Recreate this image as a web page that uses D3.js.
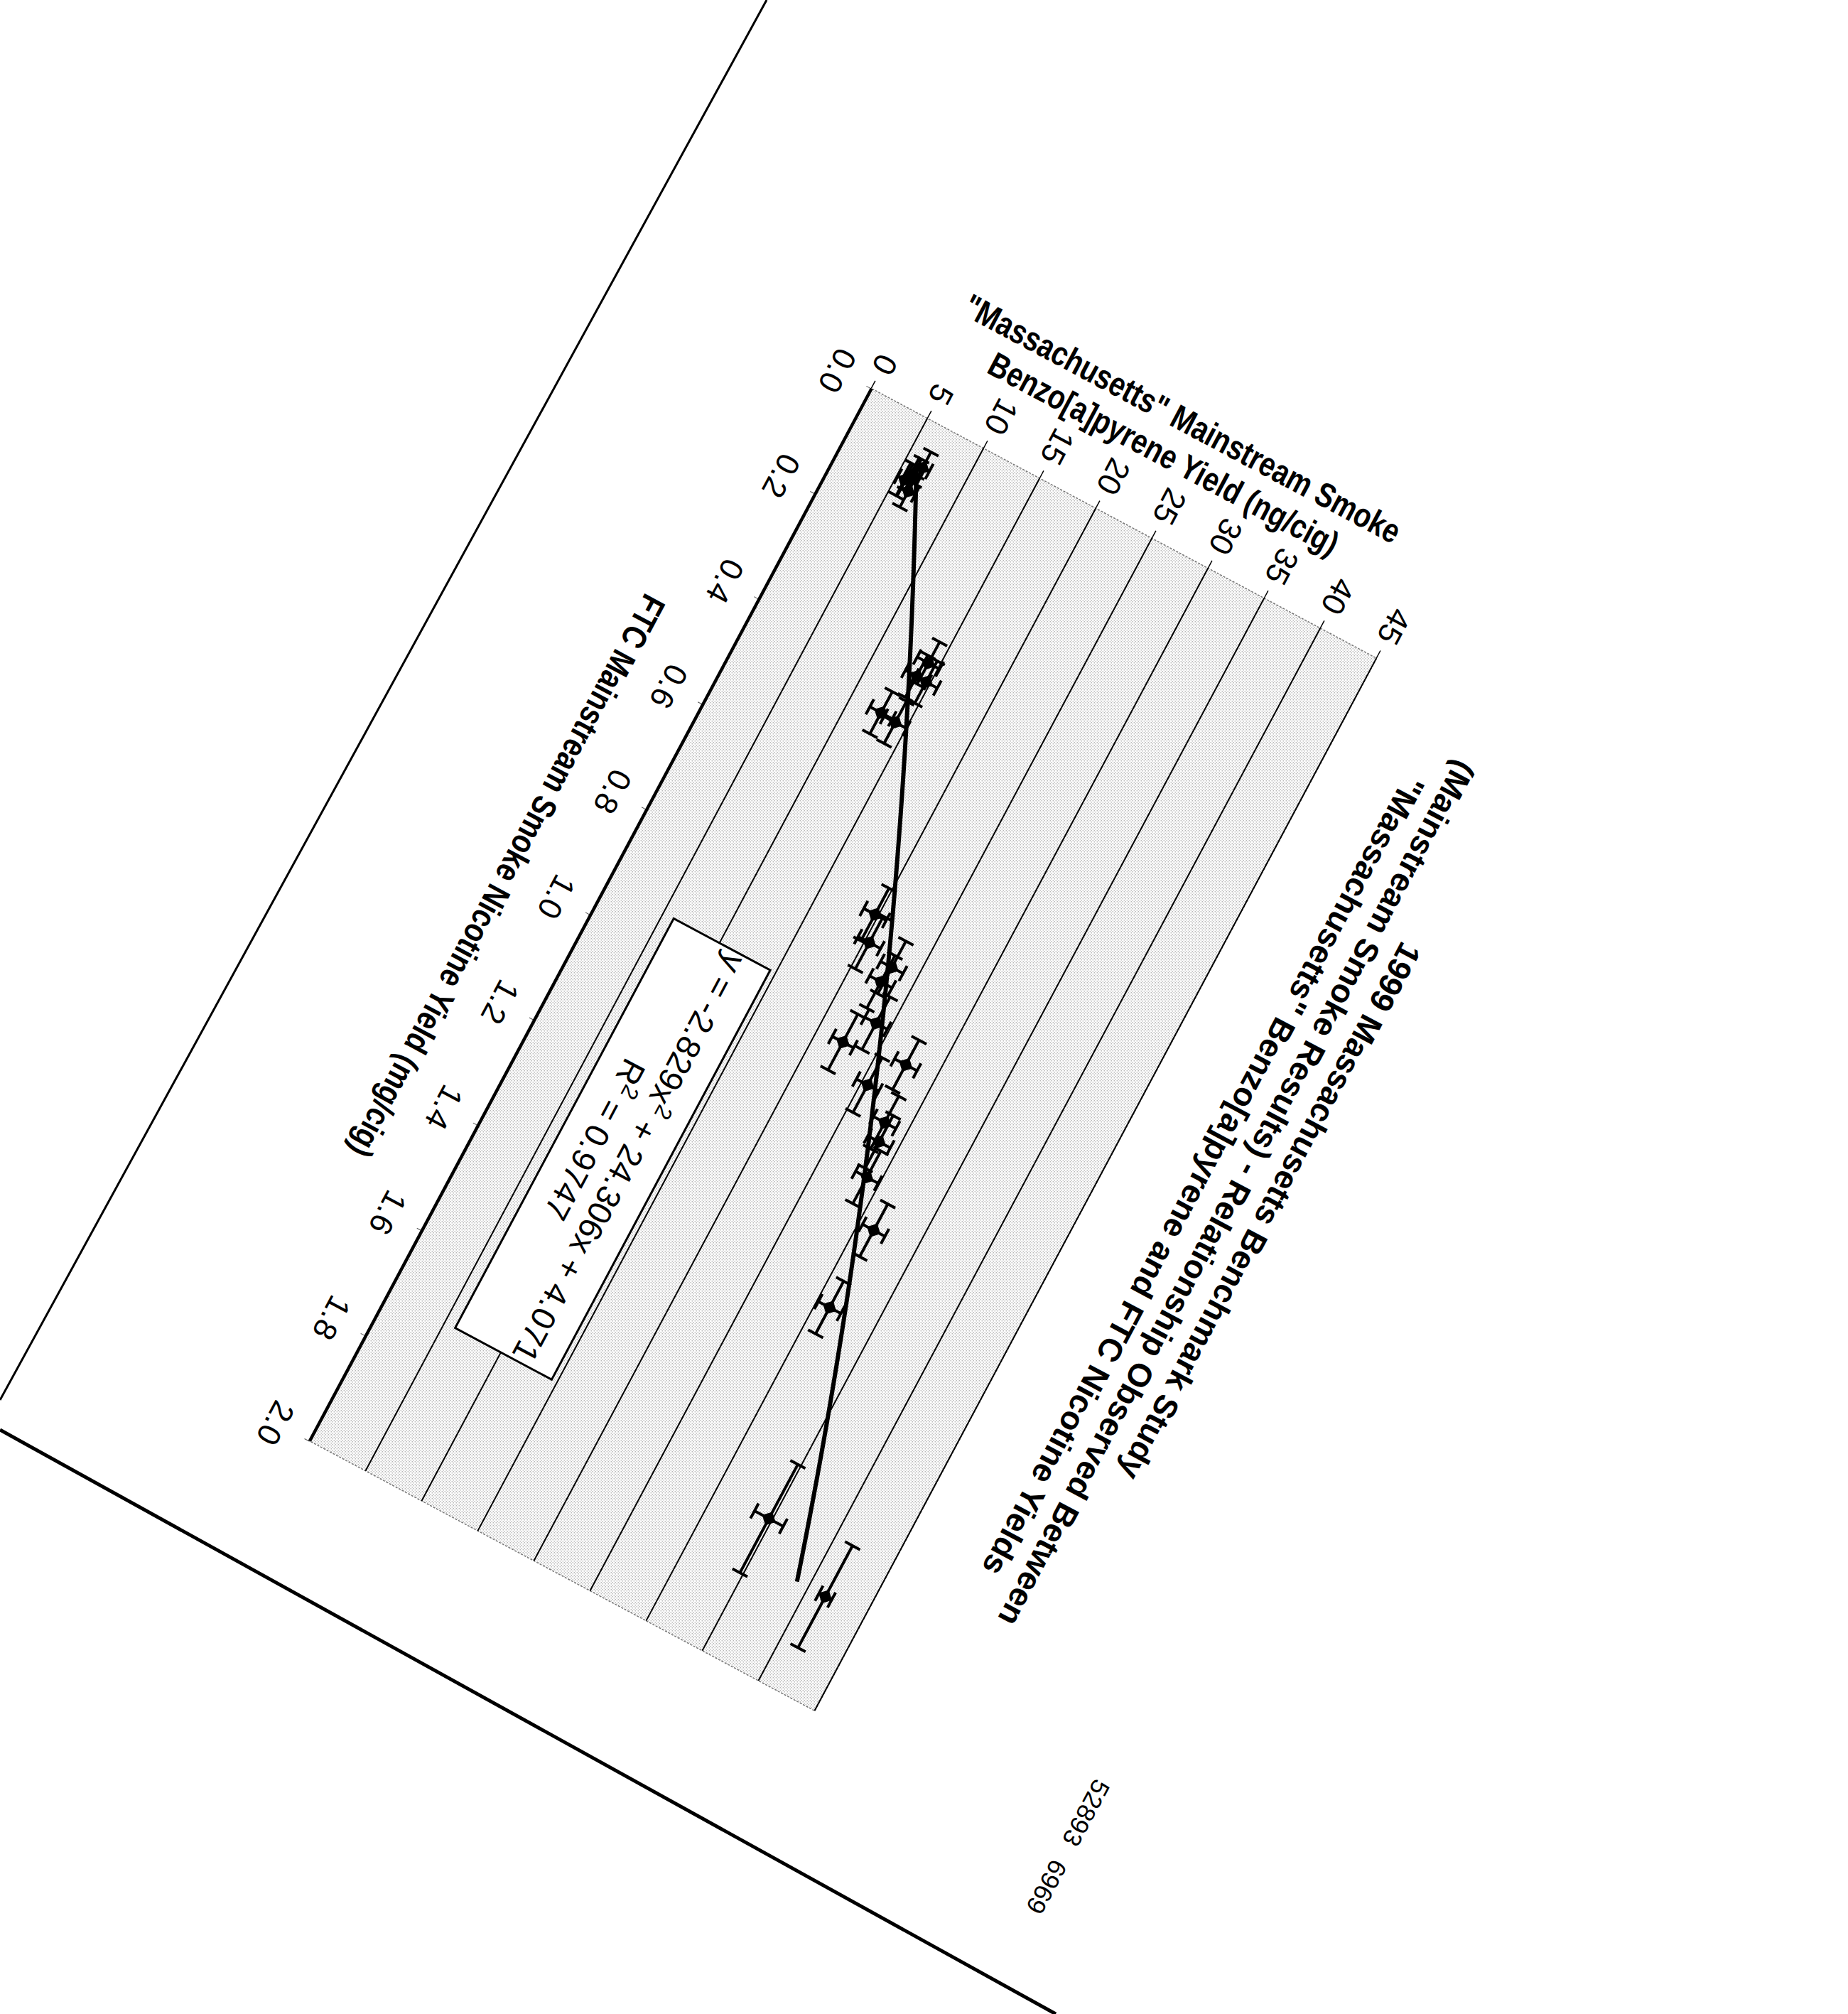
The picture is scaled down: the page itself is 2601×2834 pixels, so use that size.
<!DOCTYPE html>
<html><head><meta charset="utf-8">
<script src="https://cdn.jsdelivr.net/npm/d3@7/dist/d3.min.js"></script>
<style>body{margin:0;background:#fff}</style>
</head><body>
<svg id="c" width="2601" height="2834"></svg>
<script>
// ---- data ----
const nicotine = [0.077,0.095,0.109,0.123, 0.361,0.390,0.391,0.472,0.475,
  0.775,0.821,0.840,0.870,0.935,0.973,0.989,1.033,1.075,1.108,1.170,1.243,1.392,1.752,1.823];
const bap = [6.47,6.07,5.67,6.35, 14.1,13.77,14.64,12.66,14.0,
  19.7,20.35,22.83,22.6,23.8,27.4,22.2,25.5,28.07,28.4,28.86,31.3,31.1,34.7,41.5];
const nicErr = [0.03,0.03,0.03,0.03, 0.04,0.04,0.04,0.04,0.04,
  0.05,0.05,0.05,0.05,0.05,0.047,0.053,0.052,0.05,0.05,0.05,0.05,0.05,0.103,0.097];
const bapErr = [0.6,0.6,0.6,0.6, 1.0,1.0,1.0,1.0,1.0,
  1.0,1.0,1.0,1.0,1.0,1.0,0.95,1.0,1.0,1.0,1.0,1.0,1.0,1.28,0.56];
const xTicks = [0.0,0.2,0.4,0.6,0.8,1.0,1.2,1.4,1.6,1.8,2.0];
const yTicks = [0,5,10,15,20,25,30,35,40,45];
const trendCoef = [-2.829, 24.306, 4.071];   // a, b, c of y = a x^2 + b x + c
const rSquared = "0.9747";
const titleLines = ["1999 Massachusetts Benchmark Study",
  "(Mainstream Smoke Results) - Relationship Observed Between",
  "\"Massachusetts\" Benzo[a]pyrene and FTC Nicotine Yields"];
const yTitleLines = ["\"Massachusetts\" Mainstream Smoke", "Benzo[a]pyrene Yield (ng/cig)"];
const xTitle = "FTC Mainstream Smoke Nicotine Yield (mg/cig)";
const docId = "52893 6969";

// ---- layout ----
const O = [1226.7, 546.7], ANG = 118.1, W = 1679, H = 806;
const FONT = "'Liberation Sans', Arial, Helvetica, sans-serif";

const svg = d3.select('#c');
svg.append('rect').attr('width',2601).attr('height',2834).attr('fill','#fff');
const defs = svg.append('defs');
const pat = defs.append('pattern').attr('id','stip').attr('width',4).attr('height',4)
  .attr('patternUnits','userSpaceOnUse').attr('patternTransform','rotate(-118.1)');
pat.append('rect').attr('width',4).attr('height',4).attr('fill','#fff');
pat.append('rect').attr('x',0).attr('y',0).attr('width',1).attr('height',1).attr('fill','#666');
pat.append('rect').attr('x',2).attr('y',2).attr('width',1).attr('height',1).attr('fill','#666');

// page edges of the scanned sheet
svg.append('line').attr('x1',1079).attr('y1',0).attr('x2',0).attr('y2',1970)
  .attr('stroke','#000').attr('stroke-width',3);
svg.append('line').attr('x1',0).attr('y1',2012).attr('x2',1486).attr('y2',2834)
  .attr('stroke','#000').attr('stroke-width',5);

const g = svg.append('g')
  .attr('transform',`translate(${O[0]},${O[1]}) rotate(${ANG}) translate(0,${-H})`)
  .style('font-family',FONT);

const x = d3.scaleLinear().domain([0,2]).range([0,W]);
const y = d3.scaleLinear().domain([0,45]).range([H,0]);

// plot area
g.append('rect').attr('width',W).attr('height',H).attr('fill','url(#stip)')
  .attr('stroke','#777').attr('stroke-width',1.5).attr('stroke-dasharray','3,2');

// gridlines
const grid = g.append('g').call(d3.axisLeft(y).tickValues(yTicks.filter(v=>v>0)).tickSize(-W).tickFormat(''));
grid.select('.domain').remove();
grid.selectAll('line').attr('stroke','#000').attr('stroke-width',2);

// y axis
const ya = g.append('g').call(d3.axisLeft(y).tickValues(yTicks).tickSize(12).tickPadding(14).tickFormat(d3.format('d')));
ya.select('.domain').remove();
ya.selectAll('line').attr('stroke','#000').attr('stroke-width',1.5);
ya.selectAll('text').attr('font-size',45).attr('font-family',FONT).attr('fill','#000');

// x axis
const xa = g.append('g').attr('transform',`translate(0,${H})`)
  .call(d3.axisBottom(x).tickValues(xTicks).tickSize(8).tickPadding(30).tickFormat(d3.format('.1f')));
xa.select('.domain').remove();
xa.selectAll('line').attr('stroke','#555').attr('stroke-width',1);
xa.selectAll('text').attr('font-size',45).attr('font-family',FONT).attr('fill','#000');
g.append('line').attr('x1',x(0)).attr('x2',x(2)).attr('y1',y(0)).attr('y2',y(0))
  .attr('stroke','#000').attr('stroke-width',4.5);

// trend line
const xMin = d3.min(nicotine), xMax = d3.max(nicotine);
const xs = d3.range(0,101).map(i => xMin + (xMax-xMin)*i/100);
const poly = v => trendCoef[0]*v*v + trendCoef[1]*v + trendCoef[2];
g.append('path').datum(xs)
  .attr('d', d3.line().x(d=>x(d)).y(d=>y(poly(d))))
  .attr('fill','none').attr('stroke','#000').attr('stroke-width',6);

// error bars + markers
const pts = nicotine.map((n,i)=>({n, b:bap[i], en:nicErr[i], eb:bapErr[i]}));
const CAP = 12;
const eb = g.append('g').attr('stroke','#000').attr('stroke-width',4);
pts.forEach(p=>{
  const cx = x(p.n), cy = y(p.b);
  const x0 = x(p.n-p.en), x1 = x(p.n+p.en), y0 = y(p.b-p.eb), y1 = y(p.b+p.eb);
  eb.append('line').attr('x1',x0).attr('x2',x1).attr('y1',cy).attr('y2',cy);
  eb.append('line').attr('x1',x0).attr('x2',x0).attr('y1',cy-CAP).attr('y2',cy+CAP);
  eb.append('line').attr('x1',x1).attr('x2',x1).attr('y1',cy-CAP).attr('y2',cy+CAP);
  eb.append('line').attr('x1',cx).attr('x2',cx).attr('y1',y0).attr('y2',y1);
  eb.append('line').attr('x1',cx-CAP).attr('x2',cx+CAP).attr('y1',y0).attr('y2',y0);
  eb.append('line').attr('x1',cx-CAP).attr('x2',cx+CAP).attr('y1',y1).attr('y2',y1);
});
g.append('g').selectAll('path').data(pts).join('path')
  .attr('d', d3.symbol().type(d3.symbolSquare).size(230))
  .attr('transform', d=>`translate(${x(d.n)},${y(d.b)}) rotate(45)`)
  .attr('fill','#000');

// equation box
const box = {x:x(0.94), y:y(14.5), w:x(1.718)-x(0.94), h:y(5.9)-y(14.5)};
g.append('rect').attr('x',box.x).attr('y',box.y).attr('width',box.w).attr('height',box.h)
  .attr('fill','#fff').attr('stroke','#000').attr('stroke-width',3);
const eq1 = g.append('text').attr('x',box.x+box.w/2).attr('y',box.y+box.h/2-10)
  .attr('text-anchor','middle').attr('font-size',47);
eq1.append('tspan').text(`y = ${trendCoef[0]}x`);
eq1.append('tspan').attr('baseline-shift','super').attr('font-size',32).text('2');
eq1.append('tspan').text(` + ${trendCoef[1]}x + ${trendCoef[2]}`);
const eq2 = g.append('text').attr('x',box.x+box.w/2).attr('y',box.y+box.h/2+45)
  .attr('text-anchor','middle').attr('font-size',47);
eq2.append('tspan').text('R');
eq2.append('tspan').attr('baseline-shift','super').attr('font-size',32).text('2');
eq2.append('tspan').text(` = ${rSquared}`);

// chart title
titleLines.forEach((t,i)=>{
  g.append('text').attr('x',757).attr('y',-218 + i*53).attr('text-anchor','middle')
    .attr('font-size',46).attr('font-weight','bold').text(t);
});
// y-axis title (condensed bold)
yTitleLines.forEach((t,i)=>{
  g.append('text').attr('transform',`translate(${-152 + i*56},${H/2-3}) rotate(-90) scale(0.82,1)`)
    .attr('text-anchor','middle').attr('font-size',48).attr('font-weight','bold').text(t);
});
// x-axis title
g.append('text').attr('transform',`translate(847,${H+146}) scale(0.83,1)`)
  .attr('text-anchor','middle').attr('font-size',48).attr('font-weight','bold').text(xTitle);
// document id stamp
g.append('text').attr('x',1680).attr('y',-392).attr('text-anchor','middle')
  .attr('font-size',36).attr('word-spacing',18).text(docId);
</script>
</body></html>
